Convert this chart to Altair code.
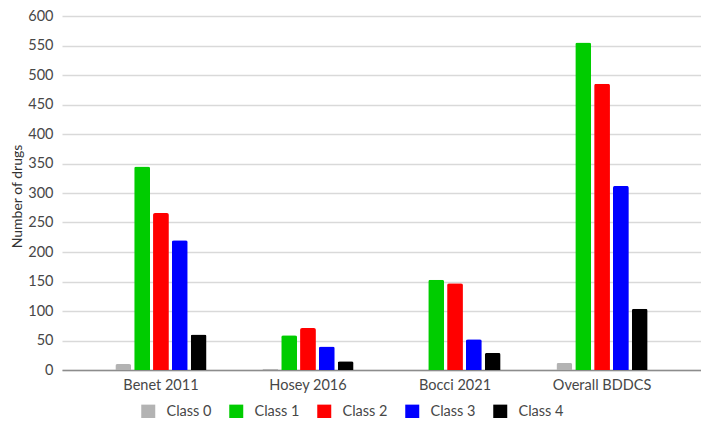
import altair as alt
import pandas as pd

groups = ["Benet 2011", "Hosey 2016", "Bocci 2021", "Overall BDDCS"]
classes = ["Class 0", "Class 1", "Class 2", "Class 3", "Class 4"]
class0 = [10, 2, 0, 12]
class1 = [345, 59, 153, 555]
class2 = [266, 71, 147, 485]
class3 = [220, 40, 52, 312]
class4 = [60, 15, 29, 104]
colors = ["#b3b3b3", "#00cc00", "#ff0000", "#0000ff", "#000000"]
y_ticks = list(range(0, 601, 50))

series = [class0, class1, class2, class3, class4]
rows = []
for cname, vals in zip(classes, series):
    for g, v in zip(groups, vals):
        rows.append({"group": g, "cls": cname, "value": v})
df = pd.DataFrame(rows)

# empty slots on either side of each cluster (reserve spacing only)
offset_domain = ["_gap_left"] + classes + ["_gap_right"]

FONT = "Lato"
TXT = "#474747"

chart = alt.Chart(df).mark_bar(
    cornerRadiusTopLeft=2, cornerRadiusTopRight=2
).encode(
    x=alt.X("group:N", sort=groups,
            scale=alt.Scale(paddingInner=0, paddingOuter=0.173),
            axis=alt.Axis(title=None, labelAngle=0, ticks=False, domain=True,
                          domainColor="#8c8c8c", domainWidth=1.5,
                          labelFontSize=14.5, labelColor=TXT,
                          labelFont=FONT, labelPadding=8, grid=False)),
    xOffset=alt.XOffset("cls:N",
                        scale=alt.Scale(domain=offset_domain,
                                        paddingInner=0.16, paddingOuter=0.48)),
    y=alt.Y("value:Q",
            scale=alt.Scale(domain=[0, 600], nice=False),
            axis=alt.Axis(title="Number of drugs", values=y_ticks, ticks=False,
                          domain=False, grid=True, gridColor="#d9d9d9",
                          gridWidth=1.3, labelFontSize=14.5,
                          labelColor=TXT, labelFont=FONT,
                          labelPadding=9, titleFont=FONT, titleFontSize=14,
                          titleFontWeight="normal", titleColor="#333333",
                          titleX=-52, titleY=180, titleAngle=-90,
                          titleBaseline="top", titleAlign="center")),
    color=alt.Color("cls:N", sort=classes,
                    scale=alt.Scale(domain=classes, range=colors),
                    legend=alt.Legend(title=None, orient="none",
                                      direction="horizontal",
                                      legendX=79, legendY=388,
                                      symbolType="square", symbolSize=196,
                                      symbolStrokeWidth=0,
                                      labelFontSize=14.5, labelFont=FONT,
                                      labelColor=TXT, labelOffset=11,
                                      columnPadding=17, padding=0)),
).properties(
    width=639, height=354,
    autosize=alt.AutoSizeParams(type="none"),
    padding={"left": 54, "top": 8, "right": 0, "bottom": 48},
).configure_view(
    stroke=None
)

chart.save("out.html", embed_options={"renderer": "svg", "actions": False})
